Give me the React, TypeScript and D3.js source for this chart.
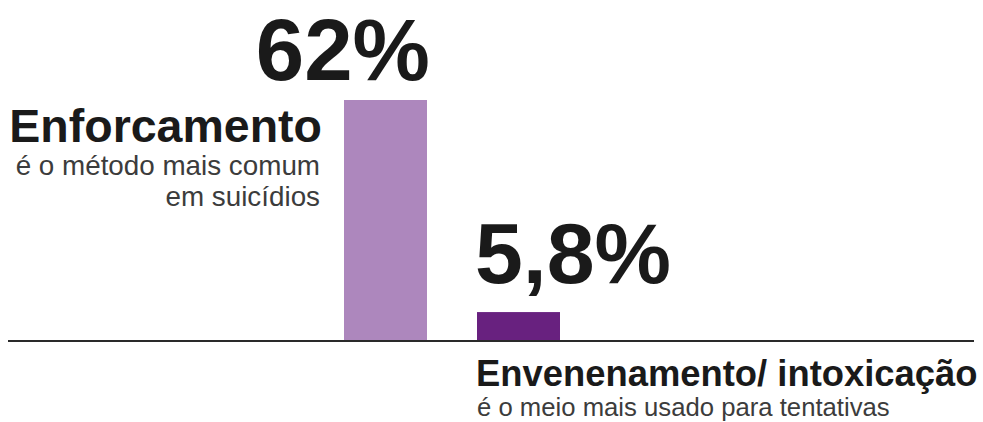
import React from "react";
import * as d3 from "d3";

const categories = ["Enforcamento", "Envenenamento/ intoxicação"];
const values = [62, 5.8];
const valueLabels = ["62%", "5,8%"];
const subtitles = [
  ["é o método mais comum", "em suicídios"],
  ["é o meio mais usado para tentativas"],
];
const colors = ["#ad87bd", "#68217f"];

const W = 983;
const H = 422;
const baseY = 340;
const FONT = "'Liberation Sans', Arial, Helvetica, sans-serif";

export default function App() {
  const x = d3
    .scaleBand<string>()
    .domain(categories)
    .range([344, 560])
    .paddingInner(0.376)
    .paddingOuter(0);
  const y = d3.scaleLinear().domain([-1.6, 62]).range([baseY, 100]);
  const bw = x.bandwidth();

  const x0 = x(categories[0])!;
  const x1 = x(categories[1])!;

  return (
    <svg
      width={W}
      height={H}
      style={{ position: "absolute", left: 0, top: 0, background: "#fff" }}
      fontFamily={FONT}
    >
      {categories.map((c, i) => (
        <rect
          key={c}
          x={x(c)}
          y={y(values[i])}
          width={bw}
          height={baseY - y(values[i])}
          fill={colors[i]}
        />
      ))}
      <line x1={8} x2={974} y1={baseY + 1} y2={baseY + 1} stroke="#2a2a2a" strokeWidth={2} />

      {/* value labels */}
      <text x={x0 + bw + 3} y={80} textAnchor="end" fontSize={87} fontWeight="bold" fill="#1a1a1a">
        {valueLabels[0]}
      </text>
      <text x={x1 - 2} y={283} textAnchor="start" fontSize={86} fontWeight="bold" fill="#1a1a1a">
        {valueLabels[1]}
      </text>

      {/* left category label */}
      <text x={x0 - 22} y={142} textAnchor="end" fontSize={46.5} fontWeight="bold" fill="#1a1a1a">
        {categories[0]}
      </text>
      {subtitles[0].map((s, k) => (
        <text
          key={s}
          x={x0 - 24}
          y={175 + k * 31}
          textAnchor="end"
          fontSize={27.8}
          fill="#3c3c3c"
        >
          {s}
        </text>
      ))}

      {/* right category label */}
      <text x={x1 - 1} y={386} textAnchor="start" fontSize={36.4} fontWeight="bold" fill="#1a1a1a">
        {categories[1]}
      </text>
      {subtitles[1].map((s) => (
        <text key={s} x={x1} y={416} textAnchor="start" fontSize={25.7} fill="#3c3c3c">
          {s}
        </text>
      ))}
    </svg>
  );
}
